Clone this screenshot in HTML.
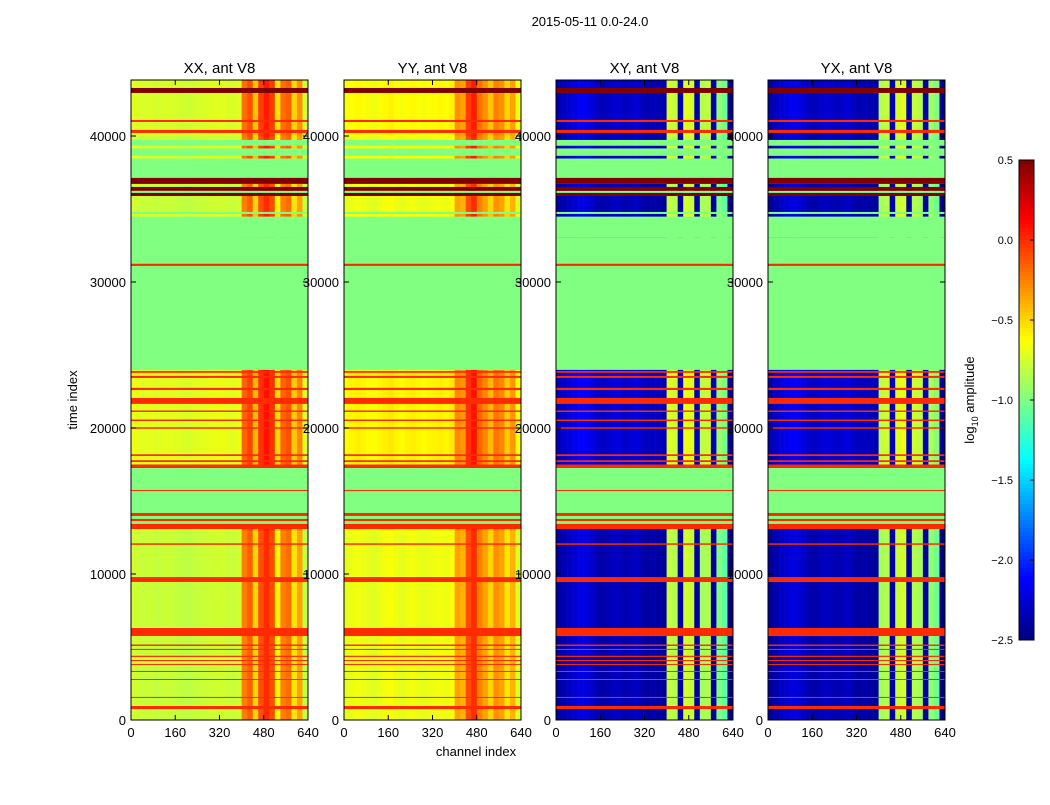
<!DOCTYPE html>
<html><head><meta charset="utf-8"><style>
body{margin:0;background:#fff;font-family:"Liberation Sans",sans-serif;}
svg text{font-family:"Liberation Sans",sans-serif;}
</style></head><body>
<svg id="chart" width="1050" height="800" xmlns="http://www.w3.org/2000/svg">
<text x="590" y="26" font-size="13" text-anchor="middle">2015-05-11 0.0-24.0</text>
<text x="476" y="756" font-size="13" text-anchor="middle">channel index</text>
<text x="77" y="400" font-size="13" text-anchor="middle" transform="rotate(-90 77 400)">time index</text>
<g id="panels"></g>
<g id="cbar"></g>
</svg>
<script>
const panelTitles=["XX, ant V8","YY, ant V8","XY, ant V8","YX, ant V8"];
const panelLefts=[131,344,556,768];
const xTicks=[0,160,320,480,640];
const yTicks=[0,10000,20000,30000,40000];
const cbarTicks=[0.5,0.0,-0.5,-1.0,-1.5,-2.0,-2.5];
// channel profiles in blocks of 20 channels (32 blocks), log10 amplitude
const profXX=[-0.76,-0.78,-0.79,-0.78,-0.8,-0.79,-0.78,-0.79,-0.8,-0.81,-0.82,-0.8,-0.79,-0.78,-0.77,-0.77,-0.76,-0.78,-0.79,-0.76,-0.25,-0.15,-0.5,-0.1,0.0,-0.1,-0.6,-0.25,-0.2,-0.55,-0.35,-0.8];
const profYY=[-0.7,-0.68,-0.66,-0.68,-0.7,-0.72,-0.68,-0.66,-0.64,-0.68,-0.7,-0.67,-0.66,-0.68,-0.7,-0.68,-0.67,-0.66,-0.68,-0.64,-0.35,-0.4,-0.1,0.0,-0.25,-0.35,-0.5,-0.3,-0.35,-0.55,-0.4,-0.72];
const profXY=[-2.4,-2.35,-2.3,-2.25,-2.2,-2.22,-2.28,-2.35,-2.38,-2.35,-2.3,-2.32,-2.36,-2.34,-2.3,-2.36,-2.4,-2.38,-2.4,-2.42,-0.8,-0.85,-2.4,-0.75,-0.8,-2.4,-0.9,-0.85,-2.4,-1.0,-1.1,-2.5];
const profYX=[-2.42,-2.36,-2.3,-2.25,-2.22,-2.24,-2.3,-2.36,-2.38,-2.34,-2.3,-2.33,-2.36,-2.33,-2.3,-2.36,-2.4,-2.38,-2.4,-2.42,-0.9,-0.85,-2.4,-0.8,-0.75,-2.4,-0.85,-0.9,-2.4,-0.95,-1.05,-2.5];
const profiles=[profXX,profYY,profXY,profYX];
// time bands where active data is shifted (start, end, offset)
const bandStart=[0,13000,24000,40000];
const bandEnd=[13000,24000,40000,43836];
const bandOffset=[0.0,0.08,0.0,0.05];
// overlay segments: kind f=flagged, r=red line, d=dark red, a=active data
const segKind=['d','r','r','f','a','a','d','d','f','d','f','a','f','r','r','r','r','r','r','r','r','r','r','f','r','r','r','r','r','r','r','r','r','r','r','r','r','r','r','r','r'];
const segStart=[42950,40960,40210,36720,39170,38480,36720,36240,36100,35890,33020,34500,23980,31100,23780,23430,22600,21650,21100,20480,19950,17670,18080,13080,16030,13975,13630,13080,17260,9450,5750,5070,4800,4320,4040,3290,2740,1510,750,12000,3770];
const segEnd=[43290,41100,40420,39730,39330,38640,37130,36510,36240,36100,34800,34660,33020,31250,23900,23570,22750,22060,21200,20580,20050,17790,18200,17260,15755,14180,13770,13430,17500,9790,6300,5170,4870,4400,4110,3360,2810,1580,960,12100,3840];
const flagValue=-1.0, redValue=0.0, darkValue=0.5;
const tMax=43836, nChan=640;
const plotTop=80, plotH=640, plotW=177;
const vmin=-2.5, vmax=0.5;

function jet(v){let x=(v-vmin)/(vmax-vmin);x=Math.max(0,Math.min(1,x));
 const c=u=>Math.round(255*Math.max(0,Math.min(1,1.5-Math.abs(u))));
 return `rgb(${c(4*x-3)},${c(4*x-2)},${c(4*x-1)})`;}
const NS="http://www.w3.org/2000/svg";
function mk(tag,attrs,parent){const e=document.createElementNS(NS,tag);for(const k in attrs)e.setAttribute(k,attrs[k]);parent.appendChild(e);return e;}
const panelsG=document.getElementById('panels');
panelLefts.forEach((L,p)=>{
 const g=mk('g',{},panelsG);
 
 
 const xs=c=>L+c/nChan*plotW;
 const ys=t=>plotTop+plotH-t/tMax*plotH;
 const prof=profiles[p];
 const drawActive=(t0,t1,off)=>{
  prof.forEach((v,b)=>{
   const r=mk('rect',{x:xs(b*20),y:ys(t1),width:xs((b+1)*20)-xs(b*20)+0.3,height:ys(t0)-ys(t1)+0.3,fill:jet(v+off)},g);
   
   
  });
 };
 bandStart.forEach((s,i)=>drawActive(s,bandEnd[i],bandOffset[i]));
 segKind.forEach((k,i)=>{
  const t0=segStart[i],t1=segEnd[i];
  if(k==='a'){drawActive(t0,t1,0.05);return;}
  const val=k==='f'?flagValue:(k==='r'?redValue:darkValue);
  const r=mk('rect',{x:L,y:ys(t1),width:plotW,height:Math.max(1,ys(t0)-ys(t1)),fill:jet(val)},g);
  
  
 });
 const fr=mk('rect',{x:L,y:plotTop,width:plotW,height:plotH,fill:'none',stroke:'#000','stroke-width':1},g);
 
 
 const tt=mk('text',{x:L+plotW/2,y:73,'font-size':15,'text-anchor':'middle'},g);
 tt.textContent=panelTitles[p];
 
 
 xTicks.forEach(v=>{const x=xs(v);
  mk('line',{x1:x,x2:x,y1:plotTop+plotH,y2:plotTop+plotH-5,stroke:'#000'},g);
  mk('line',{x1:x,x2:x,y1:plotTop,y2:plotTop+5,stroke:'#000'},g);
  const t=mk('text',{x:x,y:737,'font-size':13,'text-anchor':'middle'},g);t.textContent=v;
  
  
 });
 yTicks.forEach(v=>{const y=ys(v);
  mk('line',{x1:L,x2:L+5,y1:y,y2:y,stroke:'#000'},g);
  mk('line',{x1:L+plotW,x2:L+plotW-5,y1:y,y2:y,stroke:'#000'},g);
  const t=mk('text',{x:L-5,y:y+5,'font-size':13,'text-anchor':'end'},g);t.textContent=v;
  
  
 });
});
// colorbar
const cb=document.getElementById('cbar');


const cbX=1019,cbW=15,cbTop=160,cbH=480;
const cys=v=>cbTop+(vmax-v)/(vmax-vmin)*cbH;
for(let i=0;i<120;i++){const v=vmax-(i+0.5)*(vmax-vmin)/120;
 mk('rect',{x:cbX,y:cbTop+i*cbH/120,width:cbW,height:cbH/120+0.5,fill:jet(v)},cb);}
mk('rect',{x:cbX,y:cbTop,width:cbW,height:cbH,fill:'none',stroke:'#000'},cb);
cbarTicks.forEach(v=>{const y=cys(v);
 mk('line',{x1:cbX+cbW-4,x2:cbX+cbW,y1:y,y2:y,stroke:'#000'},cb);
 const t=mk('text',{x:1013,y:y+4,'font-size':11,'text-anchor':'end'},cb);
 t.textContent=(v<0?'\u2212':'')+Math.abs(v).toFixed(1);
 
 
});
const lab=mk('text',{x:974,y:400,'font-size':13,'text-anchor':'middle',transform:'rotate(-90 974 400)'},cb);
lab.innerHTML='log<tspan font-size="9" dy="4">10</tspan><tspan dy="-4"> amplitude</tspan>';


</script>
</body></html>
